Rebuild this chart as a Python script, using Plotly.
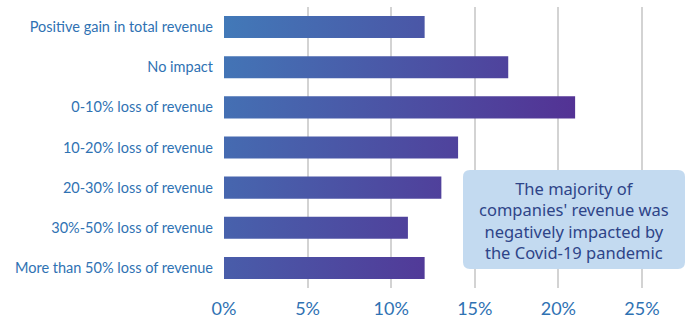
import plotly.graph_objects as go

# Survey responses: change in total revenue due to Covid-19
categories = [
    "Positive gain in total revenue",
    "No impact",
    "0-10% loss of revenue",
    "10-20% loss of revenue",
    "20-30% loss of revenue",
    "30%-50% loss of revenue",
    "More than 50% loss of revenue",
]
shares = [12, 17, 21, 14, 13, 11, 12]  # percent of companies

x_ticks = [0, 5, 10, 15, 20, 25]
x_tick_labels = ["0%", "5%", "10%", "15%", "20%", "25%"]

note_text = ("The majority of<br>companies' revenue was<br>"
             "negatively impacted by<br>the Covid-19 pandemic")

# Style
FONT = "Lato"
NOTE_FONT = "Noto Sans"
BLUE_TEXT = "#2f72b3"
GRAD_START = "#4279b8"
GRAD_END = "#552a90"
BAR_HALF = 0.275
GRAD_SPAN = 27.0   # gradient length in axis units
GRAD_TILT = 1.6    # per-row shift, giving a diagonal sweep

fig = go.Figure()

# Each bar is a filled rectangle so it can carry a colour gradient
for i, v in enumerate(shares):
    xs = [0, v, v, 0, 0]
    ys = [i - BAR_HALF, i - BAR_HALF, i + BAR_HALF, i + BAR_HALF, i - BAR_HALF]
    fig.add_trace(go.Scatter(
        x=xs, y=ys, mode="lines", fill="toself",
        line=dict(width=0, color=GRAD_START),
        fillgradient=dict(
            type="horizontal",
            colorscale=[[0, GRAD_START], [1, GRAD_END]],
            start=-GRAD_TILT * i,
            stop=GRAD_SPAN - GRAD_TILT * i,
        ),
        hoverinfo="skip", showlegend=False,
    ))

W, H = 692, 323
ml, mr, mt, mb = 224, 42, 7, 35
pw, ph = W - ml - mr, H - mt - mb

# Rounded callout box (pixel geometry mapped to paper units)
bx0, bx1, by0, by1, rad = 463, 685, 170, 269, 7


def px(xp):
    return (xp - ml) / pw


def py(yp):
    return (H - mb - yp) / ph


path = (
    f"M {px(bx0 + rad)},{py(by0)} L {px(bx1 - rad)},{py(by0)} "
    f"Q {px(bx1)},{py(by0)} {px(bx1)},{py(by0 + rad)} "
    f"L {px(bx1)},{py(by1 - rad)} "
    f"Q {px(bx1)},{py(by1)} {px(bx1 - rad)},{py(by1)} "
    f"L {px(bx0 + rad)},{py(by1)} "
    f"Q {px(bx0)},{py(by1)} {px(bx0)},{py(by1 - rad)} "
    f"L {px(bx0)},{py(by0 + rad)} "
    f"Q {px(bx0)},{py(by0)} {px(bx0 + rad)},{py(by0)} Z"
)
fig.add_shape(type="path", path=path, xref="paper", yref="paper",
              fillcolor="#c3daf0", line=dict(width=0), layer="above")

fig.add_annotation(
    text=note_text, xref="paper", yref="paper",
    x=px((bx0 + bx1) / 2), y=py((by0 + by1) / 2 + 1),
    xanchor="center", yanchor="middle", showarrow=False, align="center",
    font=dict(family=NOTE_FONT, size=16.5, color="#2e4488"),
)

fig.update_layout(
    width=W, height=H,
    margin=dict(l=ml, r=mr, t=mt, b=mb, pad=0, autoexpand=False),
    paper_bgcolor="white", plot_bgcolor="white",
    font=dict(family=FONT, color=BLUE_TEXT),
    showlegend=False,
    xaxis=dict(
        range=[0, (W - ml - mr) / 16.72], tickvals=x_ticks, ticktext=x_tick_labels,
        showgrid=True, gridcolor="#d3d3d3", gridwidth=2,
        zeroline=False, showline=False, ticks="",
        ticklabelstandoff=8, automargin=False,
        tickfont=dict(family=FONT, size=18, color=BLUE_TEXT),
        fixedrange=True,
    ),
    yaxis=dict(
        range=[len(categories) - 0.5, -0.5],
        tickvals=list(range(len(categories))), ticktext=categories,
        showgrid=False, zeroline=False, showline=False, ticks="",
        ticklabelstandoff=10, automargin=False,
        tickfont=dict(family=FONT, size=14.5, color=BLUE_TEXT),
        fixedrange=True,
    ),
)

fig.write_html("out.html")
